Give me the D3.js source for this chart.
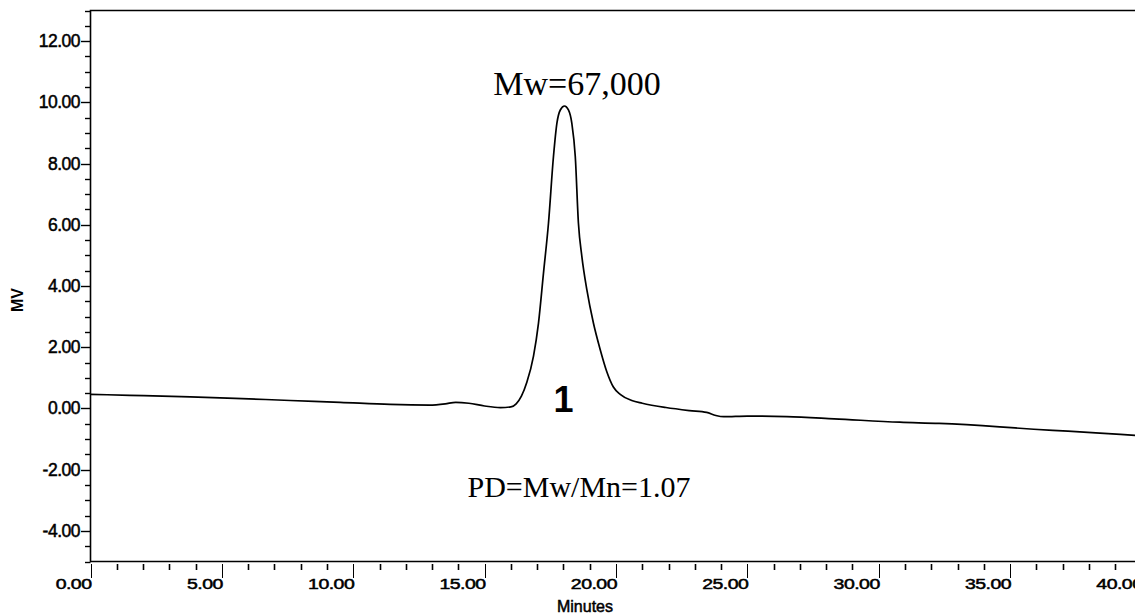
<!DOCTYPE html>
<html>
<head>
<meta charset="utf-8">
<script src="https://cdn.jsdelivr.net/npm/d3@7"></script>
<style>
	body { margin: 0; background: #fff; }
	svg { display: block; }
	.lbl { stroke: #000; stroke-width: 0.5px; }
</style>
</head>
<body>
<div id="chart"></div>
<script>
// GPC trace
var times = [0, 1.5, 3.8, 5.5, 7.6, 9.5, 11.4, 12.9, 13.5, 13.9, 14.4, 15.0, 15.6, 16.0, 16.2, 16.4,
	16.6, 16.86, 17.05, 17.24, 17.43, 17.62, 17.75, 17.88, 18.04, 18.19, 18.32, 18.45, 18.57,
	18.70, 18.89, 19.14, 19.40, 19.65, 19.9, 20.16, 20.6, 21.0, 21.9, 22.8, 23.45, 23.8, 24.1,
	25.0, 26.5, 28.3, 30.8, 32.3, 34.6, 35.9, 37.2, 39.2, 39.8];
var signal = [0.46, 0.43, 0.38, 0.33, 0.26, 0.2, 0.13, 0.11, 0.15, 0.2, 0.17, 0.08, 0.03, 0.05, 0.15, 0.4,
	0.84, 1.71, 2.79, 4.42, 6.05, 8.23, 9.31, 9.75, 9.88, 9.75, 9.31, 8.23, 6.05,
	4.97, 3.88, 2.79, 1.92, 1.2, 0.7, 0.46, 0.26, 0.17, 0.03, -0.07, -0.13, -0.23, -0.27,
	-0.25, -0.27, -0.34, -0.45, -0.49, -0.6, -0.68, -0.74, -0.85, -0.88];

var xMajor = [0, 5, 10, 15, 20, 25, 30, 35, 40];
var yMajor = [-4, -2, 0, 2, 4, 6, 8, 10, 12];
var peakLabel = "1";
var mwText = "Mw=67,000";
var pdText = "PD=Mw/Mn=1.07";

var width = 1135, height = 614;
var svg = d3.select("#chart").append("svg")
	.attr("width", width)
	.attr("height", height);

var x = d3.scaleLinear().domain([0, 40]).range([90.5, 1141.5]);
var y = d3.scaleLinear().domain([-5, 13]).range([561.5, 10.5]);

var axisFont = "Arial, 'Liberation Sans', sans-serif";
var timesFont = "'Times New Roman', 'Liberation Serif', serif";

// frame: left axis, bottom axis, top line
svg.append("path")
	.attr("d", "M" + width + "," + y(13) + "H" + x(0) + "V" + y(-5) + "H" + width)
	.attr("fill", "none")
	.attr("stroke", "#000")
	.attr("stroke-width", 1.6);

// y ticks, minors every 0.5
var yMinor = d3.range(-5, 13.01, 0.5);
svg.append("g").selectAll("line")
	.data(yMinor)
	.enter().append("line")
	.attr("x1", function(d) { return yMajor.indexOf(d) >= 0 ? 81 : 85; })
	.attr("x2", x(0))
	.attr("y1", function(d) { return Math.round(y(d)) + 0.5; })
	.attr("y2", function(d) { return Math.round(y(d)) + 0.5; })
	.attr("stroke", "#000")
	.attr("stroke-width", 1.4);

svg.append("g").selectAll("text")
	.data(yMajor)
	.enter().append("text")
	.attr("class", "lbl")
	.attr("x", 80)
	.attr("y", function(d) { return y(d) + 6; })
	.attr("text-anchor", "end")
	.style("font-family", axisFont)
	.style("font-size", "17.5px")
	.style("letter-spacing", "-0.5px")
	.text(function(d) { return d.toFixed(2); });

// x ticks, minors every minute
var xMinor = d3.range(0, 41, 1);
svg.append("g").selectAll("line")
	.data(xMinor)
	.enter().append("line")
	.attr("x1", function(d) { return Math.round(x(d)) + 0.5; })
	.attr("x2", function(d) { return Math.round(x(d)) + 0.5; })
	.attr("y1", 564)
	.attr("y2", function(d) { return xMajor.indexOf(d) >= 0 ? 578 : 570; })
	.attr("stroke", "#000")
	.attr("stroke-width", function(d) { return xMajor.indexOf(d) >= 0 ? 1 : 1.6; });

svg.append("g").selectAll("text")
	.data(xMajor)
	.enter().append("text")
	.attr("class", "lbl")
	.attr("transform", function(d) { return "translate(" + (x(d) + 1) + ",589) scale(1.3,1)"; })
	.attr("text-anchor", "end")
	.style("font-family", axisFont)
	.style("font-size", "15px")
	.style("letter-spacing", "-0.4px")
	.text(function(d) { return d.toFixed(2); });

// axis titles
svg.append("text")
	.attr("class", "lbl")
	.attr("x", 585)
	.attr("y", 612)
	.attr("text-anchor", "middle")
	.style("font-family", axisFont)
	.style("font-size", "16px")
	.text("Minutes");

svg.append("text")
	.attr("transform", "translate(23,300) rotate(-90)")
	.attr("text-anchor", "middle")
	.style("font-family", axisFont)
	.style("font-size", "16px")
	.style("font-weight", "bold")
	.text("MV");

// the trace
var pts = times.map(function(t, i) { return [t, signal[i]]; });
var line = d3.line()
	.x(function(d) { return x(d[0]); })
	.y(function(d) { return y(d[1]); })
	.curve(d3.curveMonotoneX);

svg.append("path")
	.datum(pts)
	.attr("d", line)
	.attr("fill", "none")
	.attr("stroke", "#000")
	.attr("stroke-width", 1.7);

// annotations
svg.append("text")
	.attr("x", 577)
	.attr("y", 95)
	.attr("text-anchor", "middle")
	.style("font-family", timesFont)
	.style("font-size", "34px")
	.text(mwText);

svg.append("text")
	.attr("x", x(18.04) - 1)
	.attr("y", 412)
	.attr("text-anchor", "middle")
	.style("font-family", axisFont)
	.style("font-size", "36px")
	.style("font-weight", "bold")
	.text(peakLabel);

svg.append("text")
	.attr("x", 579)
	.attr("y", 497)
	.attr("text-anchor", "middle")
	.style("font-family", timesFont)
	.style("font-size", "30px")
	.text(pdText);
</script>
</body>
</html>
